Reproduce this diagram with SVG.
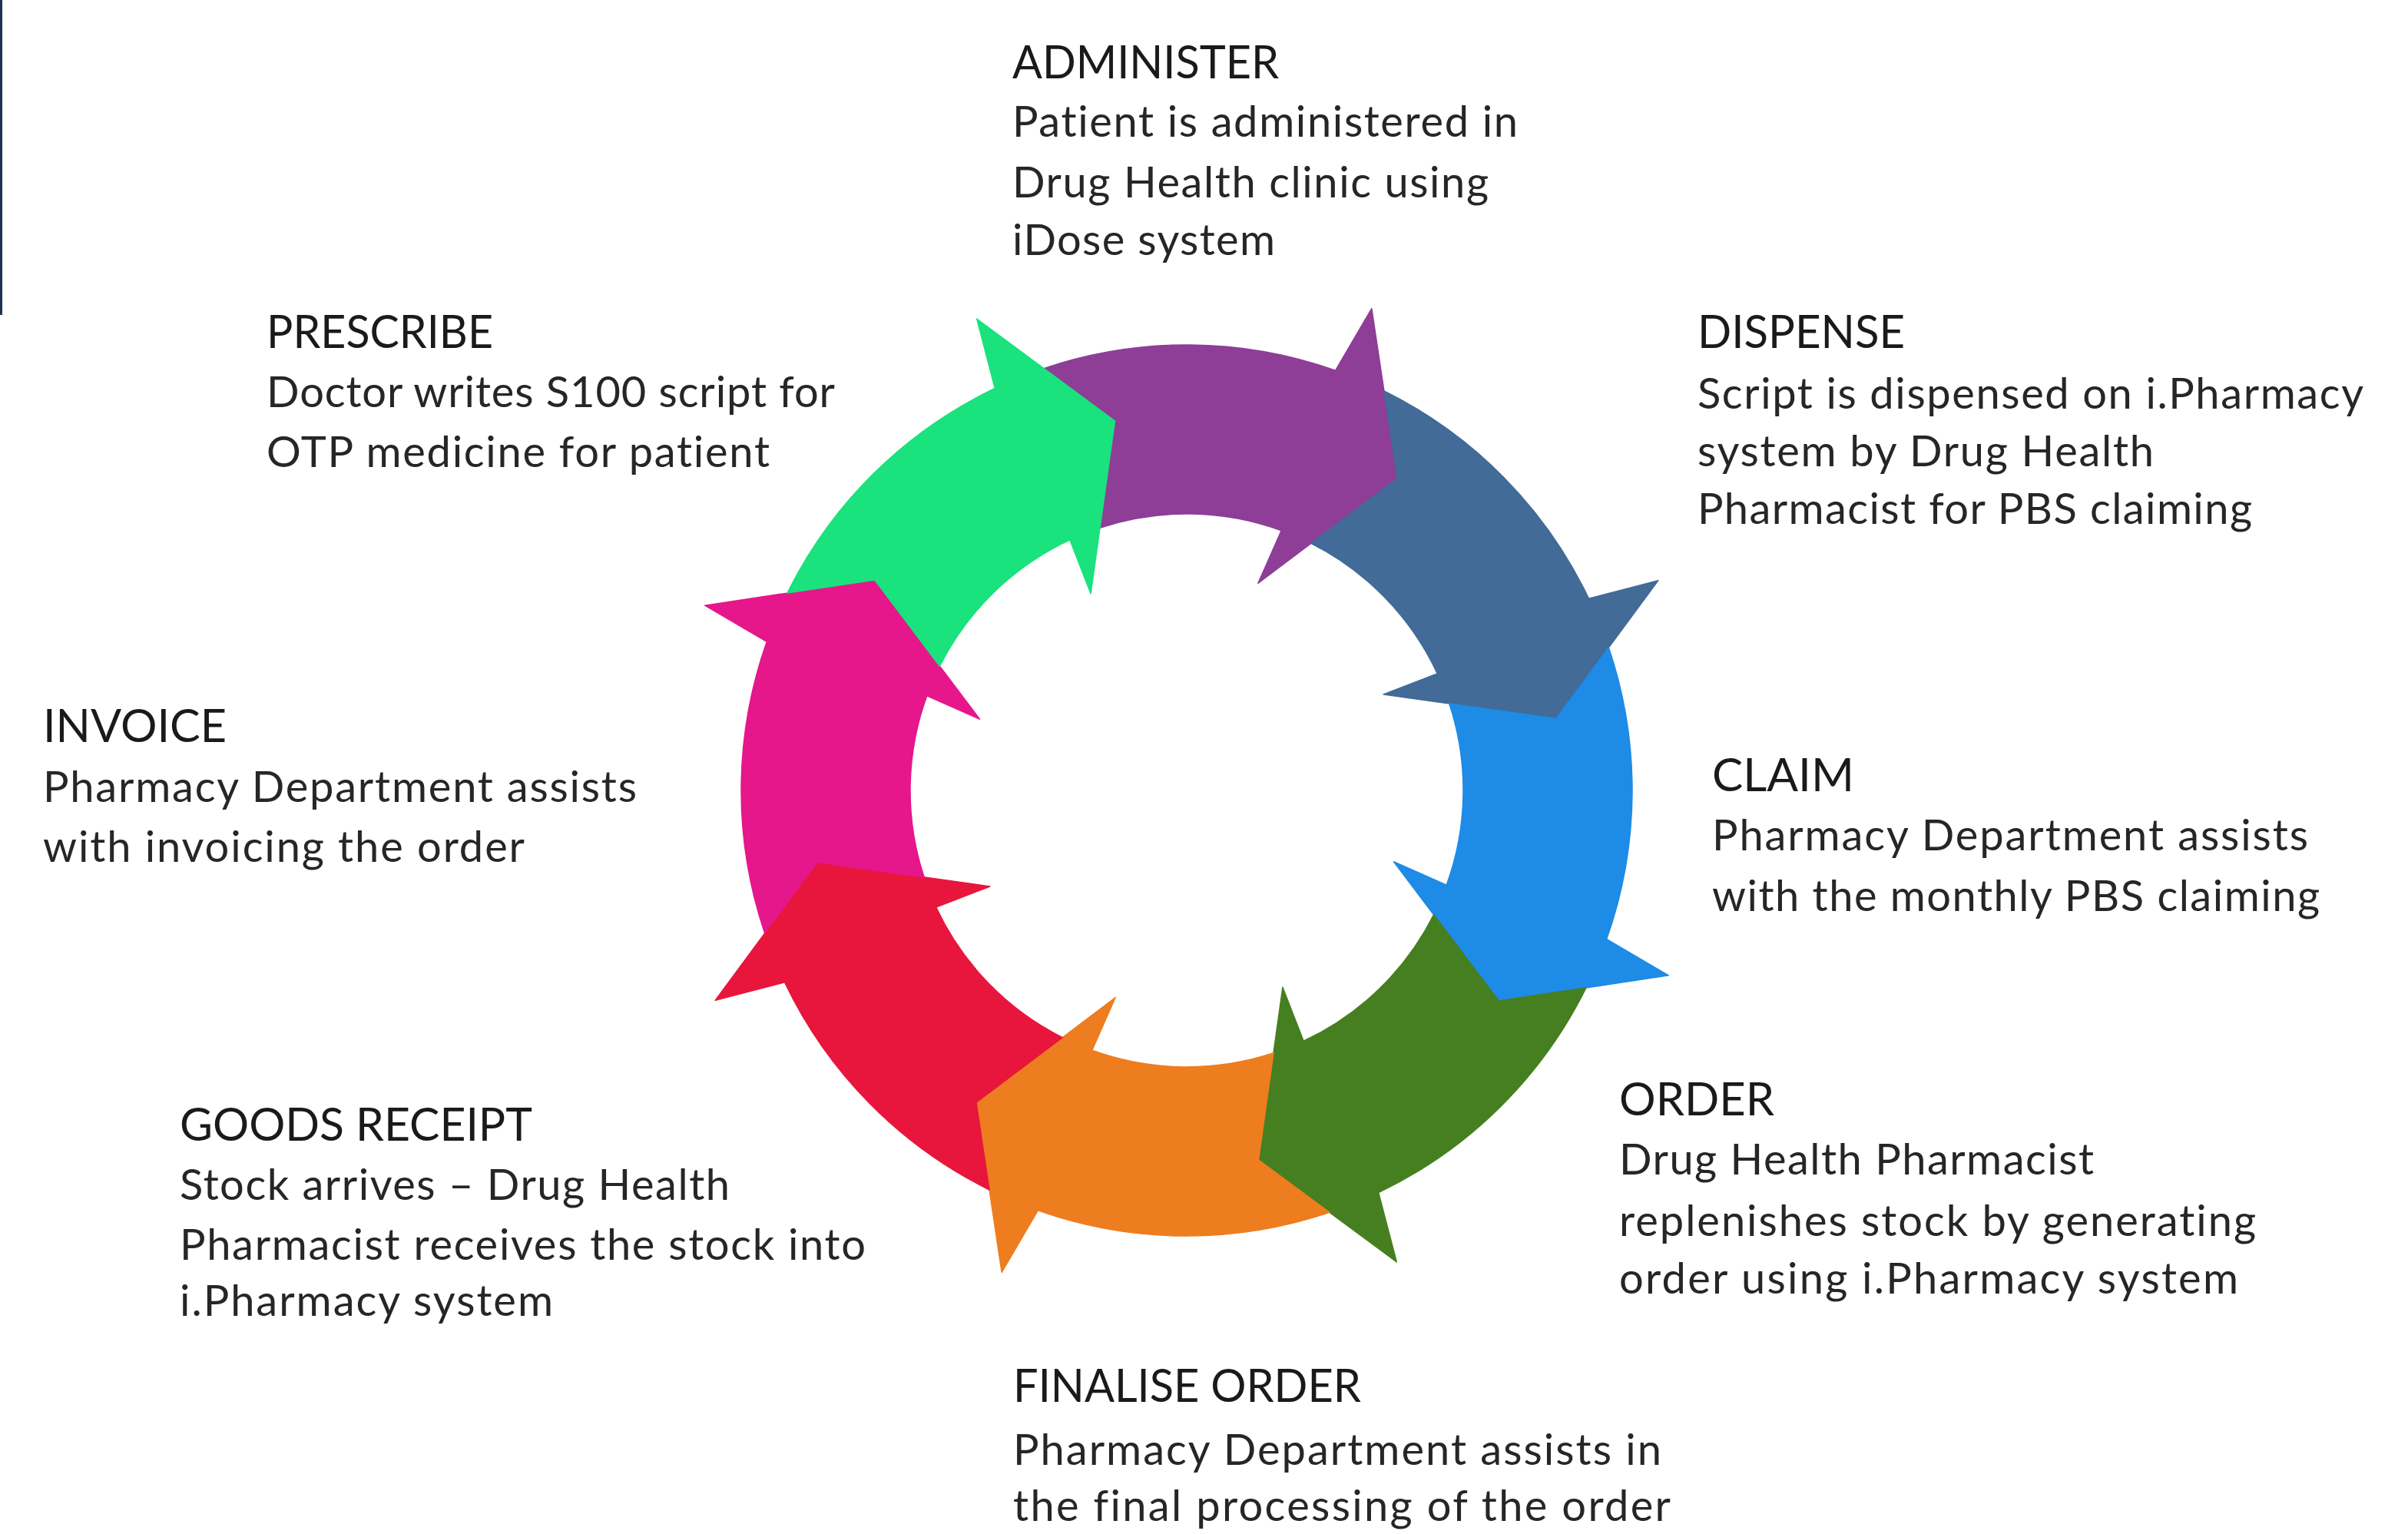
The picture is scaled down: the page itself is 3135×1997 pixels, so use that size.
<svg xmlns="http://www.w3.org/2000/svg" xmlns:xlink="http://www.w3.org/1999/xlink" width="3135" height="1997" viewBox="0 0 3135 1997">
<style>
.h{font-family:Lato,"Open Sans","Liberation Sans",sans-serif;font-size:60px;fill:#1a1a1a;font-variant-ligatures:none}
.b{font-family:Lato,"Open Sans","Liberation Sans",sans-serif;font-size:56px;fill:#262626;font-variant-ligatures:none}
.a{stroke-width:1.5;stroke-linejoin:round}
</style>
<defs>
<path id="arw" d="M -362.64 -452.65 A 580 580 0 0 1 -5.06 -579.98 L 11.73 -671.90 L 118.54 -475.45 L -4.97 -284.96 L 0 -360 A 360 360 0 0 0 -223.07 -282.56 L -252.37 -420.01 Z"/>
</defs>
<rect width="3135" height="1997" fill="#ffffff"/>
<rect x="0" y="0" width="3" height="410" fill="#1c3454"/>
<g id="connectors">
<use id="arrow-administer" xlink:href="#arw" class="a" fill="#8e3e97" stroke="#8e3e97" transform="translate(1545 1029) rotate(20)"/>
<use id="arrow-dispense" xlink:href="#arw" class="a" fill="#426b97" stroke="#426b97" transform="translate(1545 1029) rotate(65)"/>
<use id="arrow-claim" xlink:href="#arw" class="a" fill="#1e8be6" stroke="#1e8be6" transform="translate(1545 1029) rotate(110)"/>
<use id="arrow-order" xlink:href="#arw" class="a" fill="#467f1f" stroke="#467f1f" transform="translate(1545 1029) rotate(155)"/>
<use id="arrow-finalise" xlink:href="#arw" class="a" fill="#ee7d1f" stroke="#ee7d1f" transform="translate(1545 1029) rotate(200)"/>
<use id="arrow-goods" xlink:href="#arw" class="a" fill="#e8163c" stroke="#e8163c" transform="translate(1545 1029) rotate(245)"/>
<use id="arrow-invoice" xlink:href="#arw" class="a" fill="#e5178b" stroke="#e5178b" transform="translate(1545 1029) rotate(290)"/>
<use id="arrow-prescribe" xlink:href="#arw" class="a" fill="#1ae27d" stroke="#1ae27d" transform="translate(1545 1029) rotate(335)"/>
</g>
<g id="prescribe">
<text class="h" x="347" y="453" textLength="295" lengthAdjust="spacingAndGlyphs">PRESCRIBE</text>
<text class="b" x="347" y="530" textLength="740">Doctor writes S100 script for</text>
<text class="b" x="347" y="608" textLength="655">OTP medicine for patient</text>
</g>
<g id="administer">
<text class="h" x="1318" y="102" textLength="347" lengthAdjust="spacingAndGlyphs">ADMINISTER</text>
<text class="b" x="1318" y="178" textLength="658">Patient is administered in</text>
<text class="b" x="1318" y="257" textLength="620">Drug Health clinic using</text>
<text class="b" x="1318" y="332" textLength="342">iDose system</text>
</g>
<g id="dispense">
<text class="h" x="2210" y="453" textLength="270" lengthAdjust="spacingAndGlyphs">DISPENSE</text>
<text class="b" x="2210" y="532" textLength="867">Script is dispensed on i.Pharmacy</text>
<text class="b" x="2210" y="607" textLength="594">system by Drug Health</text>
<text class="b" x="2210" y="682" textLength="722">Pharmacist for PBS claiming</text>
</g>
<g id="claim">
<text class="h" x="2229" y="1030" textLength="185" lengthAdjust="spacingAndGlyphs">CLAIM</text>
<text class="b" x="2229" y="1107" textLength="776">Pharmacy Department assists</text>
<text class="b" x="2229" y="1186" textLength="791">with the monthly PBS claiming</text>
</g>
<g id="order">
<text class="h" x="2108" y="1452" textLength="202" lengthAdjust="spacingAndGlyphs">ORDER</text>
<text class="b" x="2108" y="1529" textLength="618">Drug Health Pharmacist</text>
<text class="b" x="2108" y="1609" textLength="829">replenishes stock by generating</text>
<text class="b" x="2108" y="1684" textLength="806">order using i.Pharmacy system</text>
</g>
<g id="finalise-order">
<text class="h" x="1319" y="1825" textLength="453" lengthAdjust="spacingAndGlyphs">FINALISE ORDER</text>
<text class="b" x="1319" y="1907" textLength="844">Pharmacy Department assists in</text>
<text class="b" x="1319" y="1980" textLength="856">the final processing of the order</text>
</g>
<g id="goods-receipt">
<text class="h" x="234" y="1485" textLength="459" lengthAdjust="spacingAndGlyphs">GOODS RECEIPT</text>
<text class="b" x="234" y="1562" textLength="716">Stock arrives – Drug Health</text>
<text class="b" x="234" y="1640" textLength="893">Pharmacist receives the stock into</text>
<text class="b" x="234" y="1713" textLength="486">i.Pharmacy system</text>
</g>
<g id="invoice">
<text class="h" x="56" y="966" textLength="239" lengthAdjust="spacingAndGlyphs">INVOICE</text>
<text class="b" x="56" y="1044" textLength="773">Pharmacy Department assists</text>
<text class="b" x="56" y="1122" textLength="627">with invoicing the order</text>
</g>
</svg>
